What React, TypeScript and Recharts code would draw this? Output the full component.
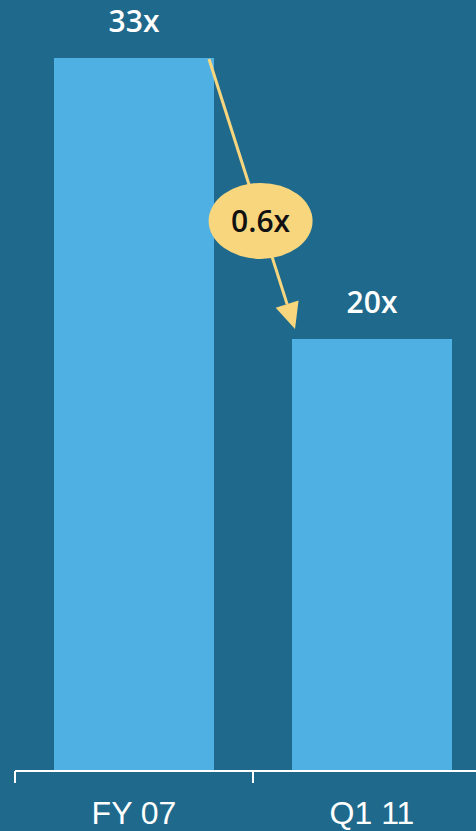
import { BarChart, Bar, XAxis, YAxis, LabelList, ReferenceLine } from "recharts";

const categories = ["FY 07", "Q1 11"];
const multiples = [33, 20];
const changeLabel = "0.6x";

const BG = "#1f6a8c";
const BAR = "#4fb0e4";
const GOLD = "#f8d67e";
const BAR_SIZE = 160;

const data = categories.map((c, i) => ({ period: c, multiple: multiples[i] }));

// tick marks sit on band edges, not on centers
function PeriodTick(props: any) {
  const { x, y, payload, index } = props;
  const half = payload?.offset ?? 119;
  return (
    <g>
      <line x1={x - half} y1={y - 8} x2={x - half} y2={y + 4} stroke="#fff" strokeWidth={2} />
      {index === categories.length - 1 && (
        <line x1={x + half} y1={y - 8} x2={x + half} y2={y + 4} stroke="#fff" strokeWidth={2} />
      )}
      <text
        x={x}
        y={y + 45}
        textAnchor="middle"
        fill="#fff"
        fontSize={32}
        fontFamily="'Liberation Sans', Arial, sans-serif"
      >
        {payload.value}
      </text>
    </g>
  );
}

function ChangeArrow(props: any) {
  const { x1, y1, x2, y2 } = props;
  const sx = x1 + BAR_SIZE / 2 - 5;
  const sy = y1 + 1;
  const ex = x2 - BAR_SIZE / 2 + 3;
  const ey = y2 - 10;
  const dx = ex - sx;
  const dy = ey - sy;
  const len = Math.hypot(dx, dy);
  const ux = dx / len;
  const uy = dy / len;
  const headLen = 26;
  const headHalf = 12;
  const bx = ex - ux * headLen;
  const by = ey - uy * headLen;
  const cx = sx + dx * 0.6;
  const cy = sy + dy * 0.6;
  return (
    <g>
      <line x1={sx} y1={sy} x2={bx} y2={by} stroke={GOLD} strokeWidth={3} />
      <polygon
        points={`${ex},${ey} ${bx - uy * headHalf},${by + ux * headHalf} ${bx + uy * headHalf},${by - ux * headHalf}`}
        fill={GOLD}
      />
      <ellipse cx={cx} cy={cy} rx={52} ry={38} fill={GOLD} />
      <text
        x={cx}
        y={cy + 11}
        textAnchor="middle"
        fill="#111"
        fontSize={30}
        fontWeight={600}
        fontFamily="'Open Sans', sans-serif"
      >
        {changeLabel}
      </text>
    </g>
  );
}

export default function App() {
  return (
    <div
      style={{
        position: "absolute",
        left: 0,
        top: 0,
        width: 476,
        height: 831,
        overflow: "hidden",
        background: BG,
      }}
    >
      <BarChart
        width={501}
        height={831}
        data={data}
        margin={{ top: 58, right: 10, left: 15, bottom: 0 }}
      >
        <XAxis
          dataKey="period"
          height={60}
          axisLine={{ stroke: "#fff", strokeWidth: 2 }}
          tickLine={false}
          tick={<PeriodTick />}
          interval={0}
        />
        <YAxis hide domain={[0, 33]} />
        <Bar dataKey="multiple" fill={BAR} barSize={BAR_SIZE} isAnimationActive={false}>
          <LabelList
            dataKey="multiple"
            position="top"
            offset={26}
            formatter={(v: any) => `${v}x`}
            fill="#fff"
            fontSize={30}
            fontWeight={600}
            fontFamily="'Open Sans', sans-serif"
          />
        </Bar>
        <ReferenceLine
          segment={[
            { x: categories[0], y: multiples[0] },
            { x: categories[1], y: multiples[1] },
          ]}
          ifOverflow="visible"
          shape={<ChangeArrow />}
        />
      </BarChart>
    </div>
  );
}
